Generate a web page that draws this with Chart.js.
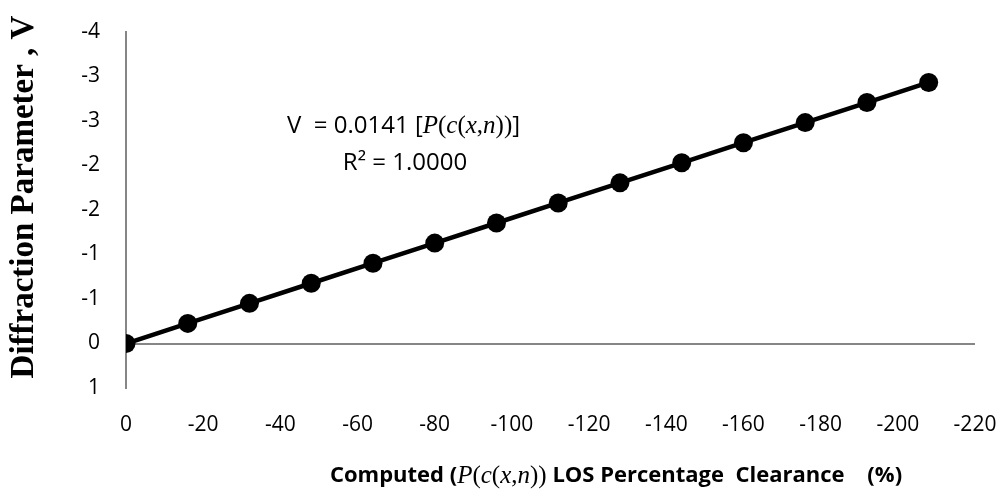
<!DOCTYPE html>
<html>
<head>
<meta charset="utf-8">
<script src="https://cdn.jsdelivr.net/npm/chart.js@4/dist/chart.umd.min.js"></script>
<style>
  html, body { margin: 0; padding: 0; background: #fff; }
  #wrap { width: 1000px; height: 492px; }
</style>
</head>
<body>
<div id="wrap"><canvas id="myLineChart" width="1000" height="492"></canvas></div>
<script>
// clearance values (x) and diffraction parameter V
const clearance = [0, -16, -32, -48, -64, -80, -96, -112, -128, -144, -160, -176, -192, -208];
const vValues = [0, -0.226, -0.451, -0.677, -0.902, -1.128, -1.354, -1.579, -1.805, -2.030, -2.256, -2.482, -2.707, -2.933];
// y ticks and the labels printed for them (rounded to whole numbers)
const yTickValues = [-3.5, -3, -2.5, -2, -1.5, -1, -0.5, 0, 0.5];
const yTickLabels = ['-4', '-3', '-3', '-2', '-2', '-1', '-1', '0', '1'];

const axisGray = '#868686';
const sans = "'Open Sans', sans-serif";
const mathFont = "'Liberation Serif', serif";

// draw a line of text made of several runs with different fonts
function drawRuns(ctx, runs, x, y, align) {
  let total = 0;
  runs.forEach(function(r) {
    ctx.font = r[1];
    total += ctx.measureText(r[0]).width;
  });
  let cx = align === 'center' ? x - total / 2 : x;
  runs.forEach(function(r) {
    ctx.font = r[1];
    ctx.fillText(r[0], cx, y);
    cx += ctx.measureText(r[0]).width;
  });
}

const textPlugin = {
  id: 'textPlugin',
  afterDraw: function(chart) {
    const ctx = chart.ctx;
    ctx.save();
    ctx.fillStyle = '#000';
    ctx.textBaseline = 'middle';

    // trend line equation
    const eq = '24px ' + sans;
    const eqM = 'italic 25px ' + mathFont;
    const eqP = '25px ' + mathFont;
    drawRuns(ctx, [['V  = 0.0141 [', eq], ['P', eqM], ['(', eqP], ['c', eqM], ['(', eqP], ['x', eqM], [',', eqP], ['n', eqM], ['))', eqP], [']', eq]], 287, 126, 'left');
    drawRuns(ctx, [['R² = 1.0000', eq]], 405, 163, 'center');

    // x axis title
    const tb = 'bold 22px ' + sans;
    const tm = 'italic 25px ' + mathFont;
    const tp = '25px ' + mathFont;
    drawRuns(ctx, [['Computed (', tb], ['P', tm], ['(', tp], ['c', tm], ['(', tp], ['x', tm], [',', tp], ['n', tm], ['))', tp], [' LOS Percentage  Clearance    (%)', tb]], 616, 476, 'center');

    // y axis title
    ctx.translate(24, 197);
    ctx.rotate(-Math.PI / 2);
    ctx.textAlign = 'center';
    ctx.font = 'bold 33px ' + mathFont;
    ctx.fillText('Diffraction Parameter , V', 0, 0);
    ctx.restore();
  }
};

const ctx = document.getElementById('myLineChart').getContext('2d');
const myLineChart = new Chart(ctx, {
  type: 'line',
  data: {
    labels: clearance,
    datasets: [{
      label: 'V',
      data: clearance.map(function(x, i) { return { x: x, y: vValues[i] }; }),
      borderColor: '#000',
      backgroundColor: '#000',
      borderWidth: 4.5,
      pointRadius: 9.5,
      pointHoverRadius: 9.5,
      pointBackgroundColor: '#000',
      pointBorderWidth: 0,
      tension: 0
    }]
  },
  options: {
    responsive: false,
    animation: false,
    layout: { padding: { top: 32, right: 0, left: 0, bottom: 0 } },
    plugins: {
      legend: { display: false },
      tooltip: { enabled: false }
    },
    scales: {
      x: {
        type: 'linear',
        min: -220,
        max: 0,
        reverse: true,
        afterFit: function(scale) { scale.height = 104; scale.paddingRight = 25; },
        grid: { display: false, drawTicks: false },
        border: { display: false },
        ticks: {
          stepSize: 20,
          padding: 24,
          color: '#000',
          font: { family: sans, size: 21 }
        }
      },
      y: {
        min: -3.5,
        max: 0.5,
        reverse: true,
        afterFit: function(scale) { scale.width = 126; scale.paddingTop = 0; scale.paddingBottom = 0; },
        grid: {
          drawTicks: false,
          lineWidth: 2,
          color: function(c) { return c.tick && c.tick.value === 0 ? axisGray : 'rgba(0,0,0,0)'; }
        },
        border: { display: true, color: axisGray, width: 2 },
        ticks: {
          stepSize: 0.5,
          padding: 26,
          color: '#000',
          font: { family: sans, size: 21 },
          callback: function(value) {
            const i = yTickValues.findIndex(function(t) { return Math.abs(t - value) < 1e-6; });
            return i >= 0 ? yTickLabels[i] : '';
          }
        }
      }
    }
  },
  plugins: [textPlugin]
});
</script>
</body>
</html>
